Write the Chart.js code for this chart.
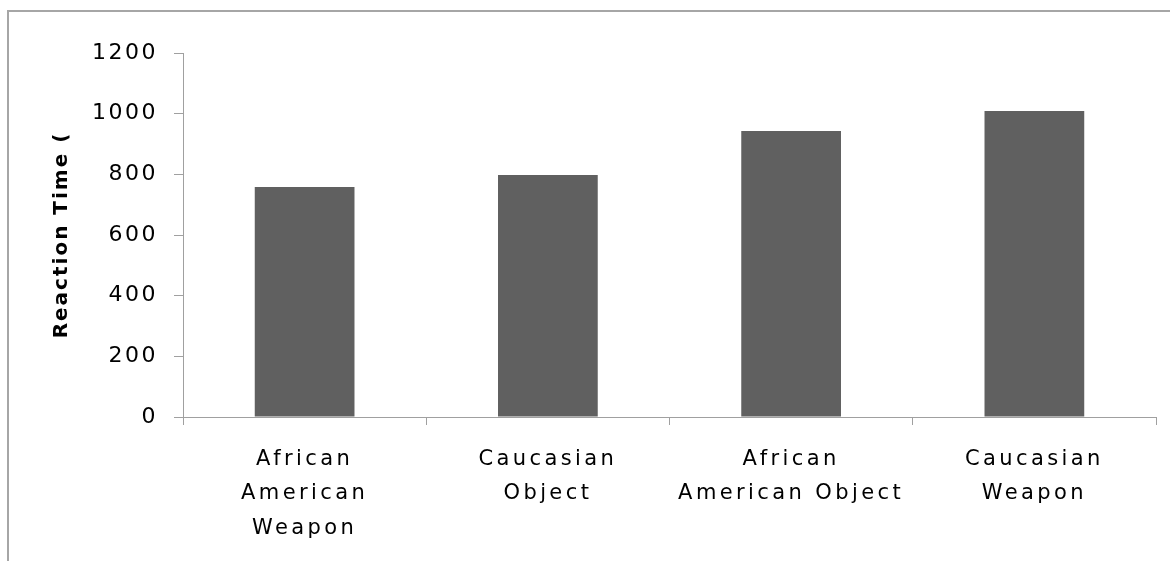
<!DOCTYPE html>
<html>
<head>
<meta charset="utf-8">
<script src="https://cdn.jsdelivr.net/npm/chart.js@4/dist/chart.umd.min.js"></script>
<style>
  html, body { margin: 0; padding: 0; background: #fff; overflow: hidden; }
  #wrap { position: relative; width: 1170px; height: 561px; }
  #frame { position: absolute; left: 7px; top: 10px; width: 1300px; height: 700px; border: 2px solid #a6a6a6; }
  canvas { position: absolute; left: 0; top: 0; }
</style>
</head>
<body>
<div id="wrap">
  <div id="frame"></div>
  <canvas id="chart" width="1170" height="561"></canvas>
</div>
<script>
/* Reaction time by target / object condition */
const categories = [
  ['African', 'American', 'Weapon'],
  ['Caucasian', 'Object'],
  ['African', 'American Object'],
  ['Caucasian', 'Weapon'],
];
const reactionTimes = [758, 798, 943, 1009];
const yTicks = { min: 0, max: 1200, step: 200 };
const yTitle = 'Reaction Time (';

const AXIS_GREY = '#a0a0a0';

// wide letter spacing, set per scale (labels / title)
const SPACING = { x: '3.4px', y: '2.5px', title: '2px' };
const spacingPlugin = {
  id: 'spacing',
  afterUpdate: c => {
    Object.values(c.scales).forEach(s => {
      if (s._spaced) return;
      s._spaced = true;
      const drawLabels = s.drawLabels, drawTitle = s.drawTitle;
      s.drawLabels = function (area) {
        this.ctx.letterSpacing = SPACING[this.id] || '0px';
        drawLabels.call(this, area);
      };
      s.drawTitle = function (area) {
        this.ctx.letterSpacing = SPACING.title;
        drawTitle.call(this, area);
        this.ctx.letterSpacing = '0px';
      };
    });
  },
};

new Chart(document.getElementById('chart'), {
  type: 'bar',
  data: {
    labels: categories,
    datasets: [{
      data: reactionTimes,
      backgroundColor: '#606060',
      borderWidth: 0,
      categoryPercentage: 1,
      barPercentage: 0.41,
    }],
  },
  options: {
    responsive: false,
    animation: false,
    events: [],
    layout: { padding: { left: 0, top: 53, right: 14, bottom: 0 } },
    plugins: { legend: { display: false }, tooltip: { enabled: false } },
    scales: {
      x: {
        grid: { offset: true, drawOnChartArea: false, tickLength: 8, color: AXIS_GREY },
        border: { color: AXIS_GREY },
        ticks: {
          color: '#000',
          font: { family: 'DejaVu Sans', size: 21, lineHeight: 1.62 },
          maxRotation: 0,
          autoSkip: false,
          padding: 18,
        },
        afterFit: s => { s.height = 144; },
      },
      y: {
        min: yTicks.min,
        max: yTicks.max,
        grid: { drawOnChartArea: false, tickLength: 9, color: AXIS_GREY },
        border: { color: AXIS_GREY },
        ticks: {
          stepSize: yTicks.step,
          color: '#000',
          font: { family: 'DejaVu Sans', size: 22 },
          padding: 16,
          callback: v => String(v),
        },
        title: {
          display: true,
          text: yTitle,
          color: '#000',
          font: { family: 'DejaVu Sans', size: 20, weight: 'bold' },
          padding: { top: 50, bottom: 0 },
        },
        afterFit: s => { s.width = 183; },
      },
    },
  },
  plugins: [spacingPlugin],
});
</script>
</body>
</html>
